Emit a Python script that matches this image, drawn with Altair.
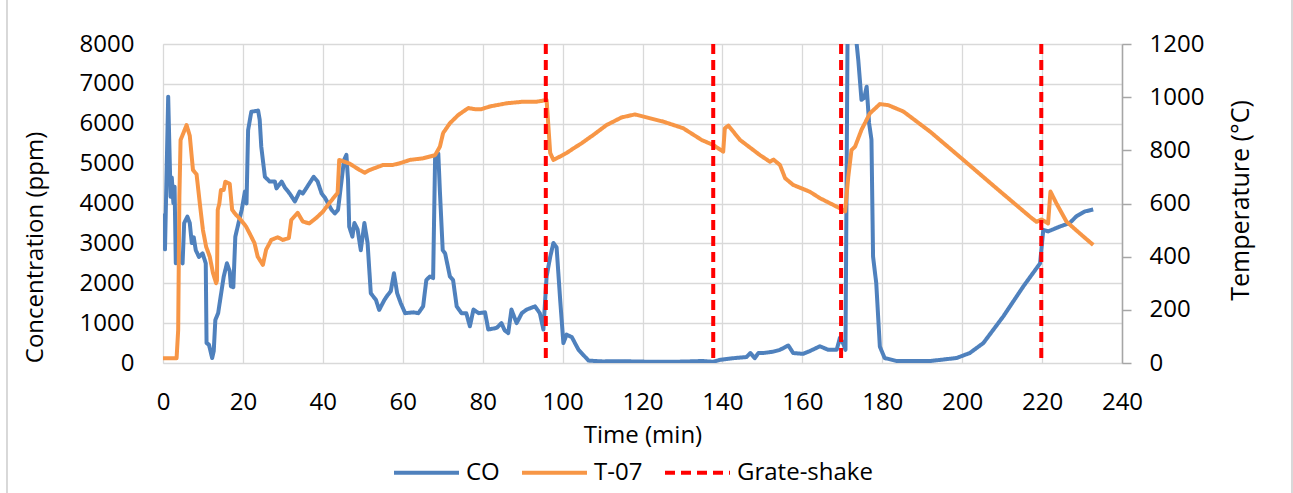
import altair as alt
import pandas as pd

# ---- data ----
co_time = [0, 0.5, 1.3, 1.9, 2.2, 2.6, 2.9, 3.2, 3.5, 4.1, 4.9, 5.3, 6.1, 6.7, 7.2, 7.7, 8.2, 9.0, 9.9, 10.7,
           10.9, 11.5, 12.3, 12.7, 13.1, 13.8, 14.3, 15.2, 16.0, 16.7, 17.0, 17.6, 18.1, 18.9, 19.7, 20.5, 20.9,
           21.3, 22.1, 23.8, 24.2, 24.6, 25.5, 26.7, 28.0, 28.4, 29.7, 30.5, 31.7, 33.0, 34.2, 35.0, 37.7, 38.7,
           39.7, 40.5, 42.2, 43.0, 43.8, 44.5, 45.3, 45.9, 46.3, 46.6, 47.4, 47.9, 48.7, 49.5, 50.4, 51.2, 52.0,
           53.3, 54.1, 55.4, 56.2, 57.0, 57.8, 58.6, 59.5, 60.6, 62.7, 63.9, 65.1, 65.9, 66.8, 67.6, 68.1, 68.9,
           69.3, 70.0, 70.6, 71.8, 72.6, 73.5, 74.7, 75.9, 76.8, 77.7, 79.0, 80.6, 81.4, 83.5, 84.7, 85.5, 86.4,
           87.2, 88.5, 89.8, 91.0, 93.1, 94.3, 95.2, 96.0, 96.9, 97.7, 98.5, 99.4, 100.2, 101.0, 102.3, 104.0,
           106.5, 110, 115, 120, 125, 130, 135, 137.7, 139.4, 142.7, 146.0, 147.0, 148.1, 149.0, 150.2, 152.5,
           154.4, 156.5, 157.7, 160.2, 161.9, 164.4, 166.5, 168.6, 169.4, 170.3, 170.8, 171.4, 172.3, 173.3,
           174.0, 174.8, 175.5, 176.1, 176.7, 177.3, 177.7, 178.5, 179.4, 180.6, 183.6, 192.0, 198.6, 201.9,
           205.3, 210.3, 215.3, 219.5, 220.3, 221.5, 224.4, 226.9, 228.6, 230.7, 232.8]
co_ppm = [3750, 2850, 6680, 4170, 4650, 4010, 4420, 2500, 3100, 2580, 2500, 3510, 3670, 3510, 3010, 3150, 2830,
          2660, 2750, 2500, 500, 460, 125, 300, 1080, 1250, 1580, 2170, 2500, 2300, 1920, 1900, 3170, 3510, 3840,
          4300, 4000, 5840, 6300, 6330, 6100, 5420, 4670, 4550, 4550, 4380, 4550, 4400, 4250, 4050, 4300, 4250,
          4670, 4550, 4250, 4150, 3840, 3750, 3840, 4420, 5090, 5220, 4600, 3420, 3170, 3510, 3350, 2830, 3510,
          3010, 1750, 1580, 1330, 1580, 1700, 1800, 2250, 1750, 1500, 1250, 1270, 1250, 1420, 2080, 2170, 2130,
          5170, 5250, 4300, 2830, 2750, 2170, 2080, 1420, 1250, 1250, 920, 1340, 1250, 1270, 840, 880, 1000, 820,
          750, 1340, 1000, 1250, 1340, 1420, 1250, 840, 2170, 2660, 3010, 2900, 1580, 500, 710, 650, 330, 60, 40,
          45, 35, 30, 35, 50, 30, 80, 120, 150, 250, 120, 250, 250, 280, 330, 440, 250, 230, 300, 420, 330, 330,
          630, 470, 330, 9500, 10500, 8300, 7600, 6600, 6650, 6930, 6020, 5600, 2670, 2000, 410, 125, 50, 50,
          125, 250, 500, 1170, 1920, 2500, 3340, 3300, 3420, 3510, 3680, 3800, 3850]

t_time = [0, 3.4, 3.8, 4.1, 4.4, 5.1, 5.9, 6.7, 7.5, 8.4, 9.2, 10.0, 10.8, 11.7, 12.5, 13.3, 13.5, 13.7, 14.1,
          14.5, 15.2, 15.6, 16.7, 17.3, 18.3, 19.5, 20.8, 22.1, 22.9, 23.7, 25.0, 25.8, 27.1, 28.7, 30.0, 31.5,
          32.1, 33.7, 35.0, 36.6, 38.3, 40.0, 41.6, 43.7, 44.1, 45.4, 46.6, 49.2, 50.5, 51.7, 55.1, 57.5, 59.2,
          61.8, 65.1, 68.1, 69.3, 70.1, 71.8, 73.9, 76.4, 78.0, 79.7, 81.8, 86.0, 90.2, 93.5, 96.0, 96.9, 97.7,
          99.4, 101.0, 102.8, 104.8, 107.7, 111.0, 114.8, 118.1, 121.0, 125.2, 130.2, 134.8, 137.7, 140.2, 140.6,
          141.5, 144.4, 149.4, 151.9, 152.8, 154.4, 155.7, 157.7, 161.9, 164.4, 169.4, 170.7, 171.5, 172.3,
          173.2, 174.8, 176.9, 179.4, 181.5, 185.3, 192.0, 200.3, 208.6, 217.0, 218.6, 219.8, 221.5, 222.1,
          223.6, 226.1, 229.4, 232.8]
t_degc = [18, 18, 124, 626, 839, 865, 895, 855, 726, 710, 602, 500, 437, 400, 339, 300, 310, 576, 600, 651, 651,
          682, 674, 576, 557, 538, 513, 475, 451, 400, 369, 426, 463, 473, 463, 470, 538, 565, 532, 525, 545, 569,
          601, 640, 764, 757, 751, 726, 716, 726, 745, 745, 751, 764, 770, 782, 814, 865, 902, 933, 959, 955, 955,
          965, 977, 983, 983, 989, 790, 764, 777, 790, 808, 827, 858, 895, 924, 935, 924, 908, 883, 839, 820, 795,
          883, 893, 839, 782, 757, 765, 745, 695, 670, 644, 620, 582, 570, 701, 801, 814, 877, 939, 974, 970, 946,
          870, 764, 657, 550, 531, 540, 525, 645, 600, 532, 488, 444]

shake_time = [95.8, 137.7, 169.7, 219.8]

series_names = ["CO", "T-07", "Grate-shake"]
series_colors = ["#4F81BD", "#F79646", "#FF0000"]
series_dash = [[1, 0], [1, 0], [10, 6]]

co_df = pd.DataFrame({"time": co_time, "value": co_ppm, "series": "CO"})
t_df = pd.DataFrame({"time": t_time, "value": t_degc, "series": "T-07"})
shake_df = pd.DataFrame({"time": shake_time, "series": "Grate-shake"})

FONT = "Open Sans"
FS = 24


def make_legend():
    return alt.Legend(title=None, orient="none", direction="horizontal",
                      legendX=229, legendY=394,
                      symbolType="stroke", symbolSize=4225, symbolStrokeWidth=4,
                      labelFont=FONT, labelFontSize=FS, labelColor="#000000",
                      labelOffset=5, columnPadding=14, symbolOpacity=1)


color_enc = alt.Color("series:N",
                      scale=alt.Scale(domain=series_names, range=series_colors),
                      legend=make_legend())
dash_enc = alt.StrokeDash("series:N",
                          scale=alt.Scale(domain=series_names, range=series_dash),
                          legend=make_legend())

x_enc = alt.X("time:Q",
              scale=alt.Scale(domain=[0, 240], nice=False),
              axis=alt.Axis(title="Time (min)", values=list(range(0, 241, 20)), format="d",
                            ticks=False, tickSize=0, labelFlush=False,
                            domain=False, grid=True, gridColor="#D9D9D9", gridWidth=1.3,
                            labelFont=FONT, labelFontSize=FS, labelColor="#000000",
                            labelBaseline="alphabetic", labelPadding=46,
                            titleFont=FONT, titleFontSize=FS, titleFontWeight="normal", titleColor="#000000",
                            titleBaseline="alphabetic", titleY=79))

co_line = alt.Chart(co_df).mark_line(strokeWidth=4, clip=True, strokeJoin="round").encode(
    x=x_enc,
    y=alt.Y("value:Q",
            scale=alt.Scale(domain=[0, 8000], nice=False),
            axis=alt.Axis(title="Concentration (ppm)", orient="left", values=list(range(0, 8001, 1000)),
                          format="d", ticks=False, tickSize=0, domain=False, labelFlush=False,
                          grid=True, gridColor="#D9D9D9", gridWidth=1.3,
                          labelFont=FONT, labelFontSize=FS, labelColor="#000000", labelPadding=29,
                          titleFont=FONT, titleFontSize=FS, titleFontWeight="normal", titleColor="#000000",
                          titleAngle=270, titleBaseline="middle", titleAlign="center",
                          titleX=-128, titleY=203)),
    color=color_enc,
    strokeDash=dash_enc,
    order=alt.Order("time:Q"),
)

t_line = alt.Chart(t_df).mark_line(strokeWidth=4, clip=True, strokeJoin="round").encode(
    x=alt.X("time:Q", scale=alt.Scale(domain=[0, 240], nice=False)),
    y=alt.Y("value:Q",
            scale=alt.Scale(domain=[0, 1200], nice=False),
            axis=alt.Axis(title="Temperature (°C)", orient="right", values=list(range(0, 1201, 200)),
                          format="d", grid=False, domain=True, domainColor="#A6A6A6", domainWidth=1.5,
                          labelFlush=False,
                          ticks=True, tickColor="#A6A6A6", tickWidth=1.5, tickSize=9,
                          labelFont=FONT, labelFontSize=FS, labelColor="#000000", labelPadding=18,
                          titleFont=FONT, titleFontSize=25, titleFontWeight="normal", titleColor="#000000",
                          titleAngle=270, titleBaseline="middle", titleAlign="center",
                          titleX=118, titleY=156)),
    color=color_enc,
    strokeDash=dash_enc,
    order=alt.Order("time:Q"),
)

shake_rules = alt.Chart(shake_df).mark_rule(strokeWidth=4).encode(
    x=alt.X("time:Q", scale=alt.Scale(domain=[0, 240], nice=False)),
    color=color_enc,
    strokeDash=dash_enc,
)

border_df = pd.DataFrame({"edge": ["left", "right"], "px": [-156, 1129]})
border = alt.Chart(border_df).mark_rule(color="#BFBFBF", strokeWidth=1.2).encode(
    x=alt.X("px:Q", scale=None),
    y=alt.value(-44),
    y2=alt.value(449),
)

chart = alt.layer(co_line, t_line, shake_rules, border).resolve_scale(
    y="independent"
).properties(
    width=959,
    height=319,
    autosize=alt.AutoSizeParams(type="none"),
    padding={"left": 163, "top": 44, "right": 171, "bottom": 130},
).configure_view(
    stroke=None
).configure(
    background="#FFFFFF"
)

chart.save("out.html", embed_options={"renderer": "svg", "actions": False})
